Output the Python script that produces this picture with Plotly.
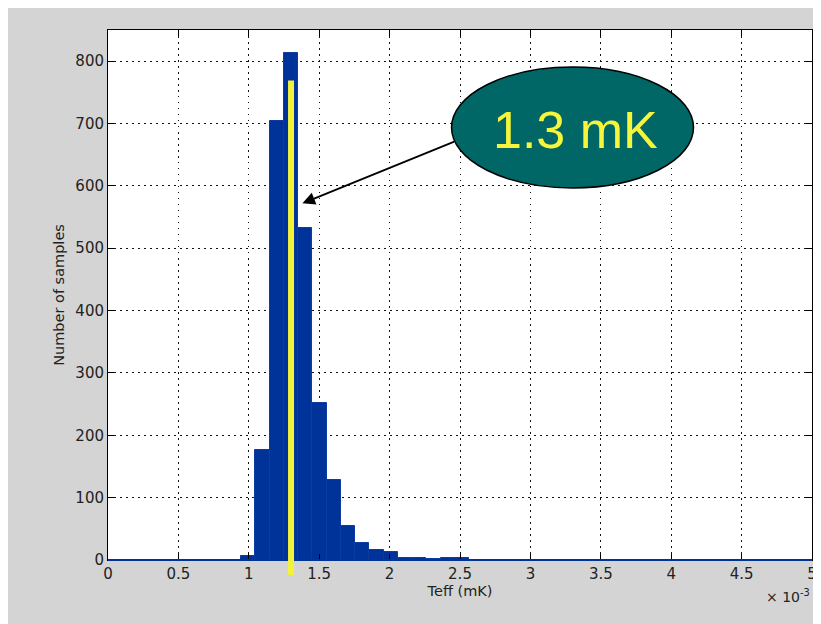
import plotly.graph_objects as go

# Histogram data (Teff in units of 1e-3 K, i.e. mK)
bin_centers = [0.996, 1.097, 1.198, 1.299, 1.401, 1.502, 1.603, 1.704,
               1.805, 1.907, 2.008, 2.109, 2.210, 2.311, 2.413, 2.514]
bin_counts = [6, 177, 704, 813, 532, 252, 128, 55,
              28, 16, 13, 4, 4, 1, 4, 4]
bin_width = 0.1012

mean_teff = 1.3          # yellow marker line position
mean_line_top = 769      # top of the yellow line (counts)

x_ticks = [0, 0.5, 1, 1.5, 2, 2.5, 3, 3.5, 4, 4.5, 5]
x_tick_labels = ["0", "0.5", "1", "1.5", "2", "2.5", "3", "3.5", "4", "4.5", "5"]
y_ticks = [0, 100, 200, 300, 400, 500, 600, 700, 800]
y_tick_labels = [str(v) for v in y_ticks]

BAR_BLUE = "#003399"
GRAY = "#d4d4d4"
FONT = "DejaVu Sans"

fig = go.Figure()
fig.add_trace(go.Bar(
    x=bin_centers, y=bin_counts, width=bin_width,
    marker=dict(color=BAR_BLUE, line=dict(color="#0d3c9e", width=1)),
    showlegend=False, hoverinfo="skip",
))

W, H = 821, 624
L, R, T, B = 100, 14, 22, 72
pw, ph = W - L - R, H - T - B
OFF = 8  # page body margin

def px_x(p):
    return (p - OFF - L) / pw

def px_y(p):
    return (H - B - (p - OFF)) / ph

shapes = [
    # blue baseline of empty bins
    dict(type="line", xref="paper", yref="paper", x0=0, x1=1, y0=0, y1=0,
         line=dict(color=BAR_BLUE, width=2)),
    # yellow line at 1.3 mK (extends below the axis)
    dict(type="line", xref="x", yref="paper", x0=mean_teff, x1=mean_teff,
         y0=px_y(575), y1=mean_line_top / 850,
         line=dict(color="#f2f23a", width=6)),
    # ellipse callout
    dict(type="circle", xref="paper", yref="paper",
         x0=px_x(453), x1=px_x(696), y0=px_y(188), y1=px_y(67),
         fillcolor="#006666", line=dict(color="black", width=1.5)),
]

annotations = [
    dict(x=1.381, y=572, xref="x", yref="y",
         ax=2.47, ay=672, axref="x", ayref="y",
         showarrow=True, arrowhead=2, arrowsize=1.4, arrowwidth=1.8,
         arrowcolor="black", text=""),
    dict(x=px_x(577), y=px_y(130), xref="paper", yref="paper",
         xanchor="center", yanchor="middle",
         text="1.3 mK", showarrow=False,
         font=dict(family="Liberation Sans", size=52, color="#f5f53c")),
    dict(x=1.0, y=px_y(596), xref="paper", yref="paper",
         xanchor="right", yanchor="middle", showarrow=False,
         text="× 10<sup>-3</sup>",
         font=dict(family=FONT, size=14, color="#222222")),
]

fig.update_layout(
    width=W, height=H,
    margin=dict(l=L, r=R, t=T, b=B, pad=0),
    paper_bgcolor=GRAY, plot_bgcolor="white",
    bargap=0,
    shapes=shapes, annotations=annotations,
    font=dict(family=FONT, size=15, color="#222222"),
)

fig.update_xaxes(
    range=[0, 5], tickvals=x_ticks, ticktext=x_tick_labels,
    ticks="inside", ticklen=6, tickcolor="black", tickwidth=1,
    showline=True, linecolor="black", linewidth=1, mirror="ticks",
    showgrid=True, gridcolor="#111111", gridwidth=1, griddash="1.5px,4.5px",
    zeroline=False, tickfont=dict(size=15),
    title=dict(text="Teff (mK)", font=dict(size=14.5), standoff=2),
    layer="above traces",
)
fig.update_yaxes(
    range=[0, 850], tickvals=y_ticks, ticktext=y_tick_labels,
    ticks="inside", ticklen=6, tickcolor="black", tickwidth=1,
    showline=True, linecolor="black", linewidth=1, mirror="ticks",
    showgrid=True, gridcolor="#111111", gridwidth=1, griddash="1.5px,4.5px",
    zeroline=False, tickfont=dict(size=15),
    title=dict(text="Number of samples", font=dict(size=14.5), standoff=7),
    layer="below traces",
)

fig.write_html("out.html")
